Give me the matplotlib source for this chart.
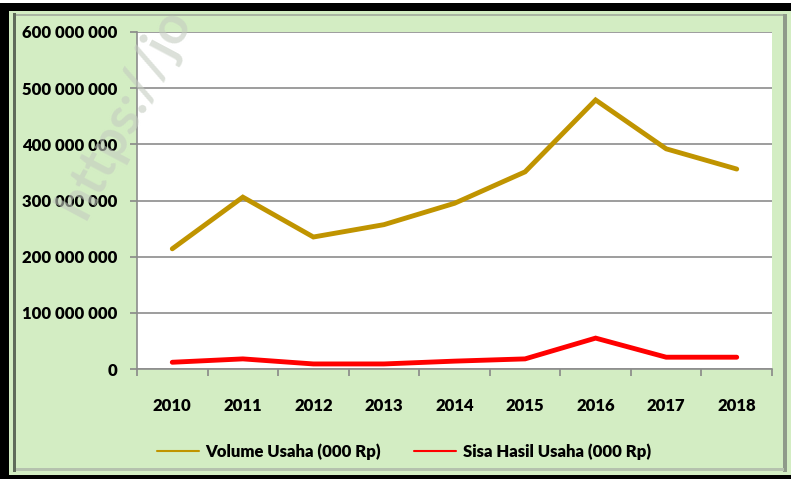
import matplotlib.pyplot as plt
from matplotlib.patches import Rectangle
from matplotlib.ticker import FuncFormatter

# -------------------- Data --------------------
years = ['2010', '2011', '2012', '2013', '2014', '2015', '2016', '2017', '2018']
volume_usaha = [214e6, 306e6, 235e6, 257e6, 295e6, 351e6, 479e6, 392e6, 356e6]
sisa_hasil_usaha = [12e6, 18e6, 9e6, 9e6, 14e6, 18e6, 55e6, 21e6, 21e6]

green_bg = '#d3edc3'
gold = '#c09400'
red = '#ff0000'

plt.rcParams['font.family'] = ['Lato', 'DejaVu Sans']

fig = plt.figure(figsize=(7.91, 4.79), dpi=100)
fig.patch.set_facecolor(green_bg)
W, H = 791, 479

def px_rect(x0, y0, x1, y1, color, z=0):
    # rectangle in pixel coords (origin top-left)
    fig.patches.append(Rectangle((x0 / W, 1 - y1 / H), (x1 - x0) / W, (y1 - y0) / H,
                                 transform=fig.transFigure, facecolor=color,
                                 edgecolor='none', zorder=z))

# frame: black band + bevel
px_rect(0, 0, W, 3, 'white')
px_rect(0, 3, W, 11, 'black')
px_rect(0, 3, 9, H, 'black')
px_rect(0, 475, W, H, 'black')
px_rect(13, 13, 16, 472, '#5f6b5a')
px_rect(16, 14, 784, 16, '#a9b5a3')
px_rect(783, 14, 787, 472, '#8f9a8a')
px_rect(16, 468, 784, 471, '#b5c2ae')

# watermark
fig.text(125 / W, 1 - 112 / H, 'https://jo', rotation=62, fontsize=38,
         color='#c4ccc0', alpha=0.6, fontweight='bold', ha='center', va='center',
         zorder=5)

# -------------------- Plot --------------------
ax = fig.add_axes([137 / W, 1 - 369 / H, (772 - 137) / W, (369 - 32) / H])
ax.set_facecolor('white')
x = range(len(years))
ax.plot(x, volume_usaha, color=gold, lw=3.5, label='Volume Usaha (000 Rp)',
        solid_joinstyle='miter', solid_capstyle='round', zorder=3)
ax.plot(x, sisa_hasil_usaha, color=red, lw=3.5, label='Sisa Hasil Usaha (000 Rp)',
        solid_joinstyle='miter', solid_capstyle='round', zorder=3)

ax.set_xlim(-0.5, len(years) - 0.5)
ax.set_ylim(0, 600e6)
ax.set_yticks([0, 100e6, 200e6, 300e6, 400e6, 500e6, 600e6])
ax.yaxis.set_major_formatter(FuncFormatter(lambda v, p: f'{int(v):,}'.replace(',', ' ')))
ax.set_xticks([i - 0.5 for i in range(len(years) + 1)])
ax.set_xticklabels([])
ax.set_xticks(list(x), minor=True)
ax.set_xticklabels(years, minor=True)
ax.tick_params(axis='x', which='minor', length=0, pad=21, labelsize=12)
ax.tick_params(axis='x', which='major', length=5, color='#888888', width=1.2)
ax.tick_params(axis='y', length=5, color='#888888', width=1.2, labelsize=12, pad=9)
for lab in ax.get_xticklabels(minor=True) + ax.get_yticklabels():
    lab.set_fontweight('heavy')

ax.grid(axis='y', color='#8c8c8c', lw=1.2)
ax.set_axisbelow(True)
for s in ['top', 'right']:
    ax.spines[s].set_visible(False)
for s in ['left', 'bottom']:
    ax.spines[s].set_color('#8c8c8c')
    ax.spines[s].set_linewidth(1.2)

fig.legend(loc='center', bbox_to_anchor=(404 / W, 1 - 452 / H), ncol=2, frameon=False,
           prop={'weight': 'heavy', 'size': 12}, handlelength=2.5, columnspacing=2.0,
           handletextpad=0.4)
for line in fig.legends[0].get_lines():
    line.set_linewidth(1.5)

fig.savefig('out.png', dpi=100, facecolor=fig.get_facecolor())
